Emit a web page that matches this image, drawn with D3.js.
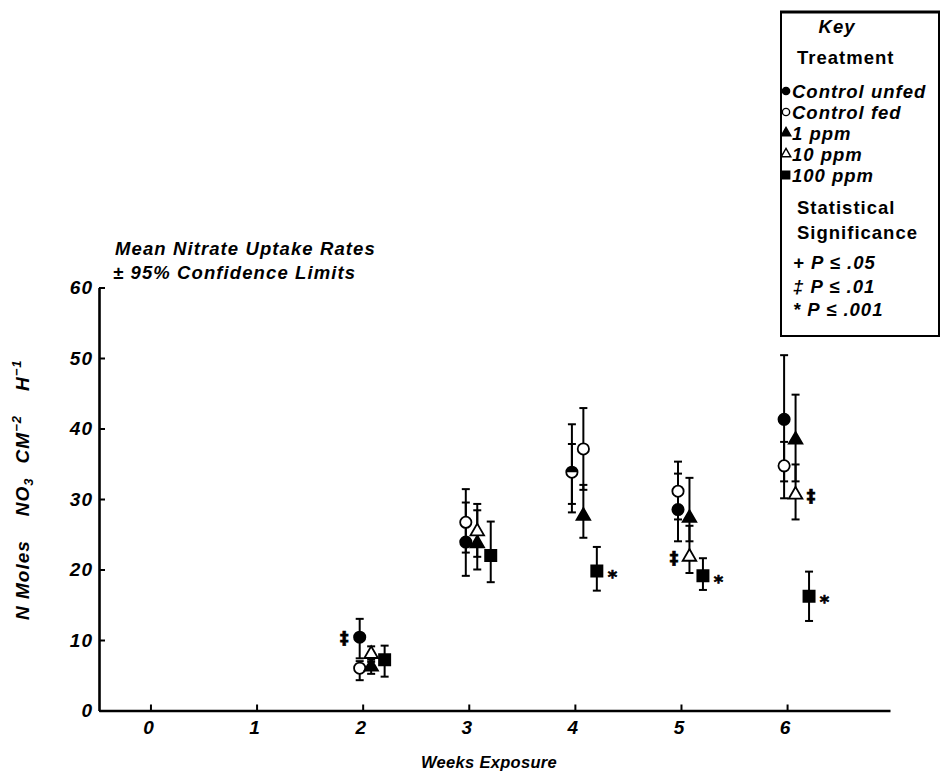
<!DOCTYPE html>
<html>
<head>
<meta charset="utf-8">
<script src="https://cdn.jsdelivr.net/npm/d3@7"></script>
<style>
  html, body { margin: 0; padding: 0; background: #fff; }
  svg { display: block; }
  text { font-family: "Liberation Sans", Arial, Helvetica, sans-serif; font-weight: bold; fill: #000; }
</style>
</head>
<body>
<svg id="chart" width="942" height="773"></svg>
<script>
// ── Data ───────────────────────────────────────────────────────────────────
const weekTicks = [0, 1, 2, 3, 4, 5, 6];
const yTicks    = [0, 10, 20, 30, 40, 50, 60];

// mean ± 95% confidence limits, per week; slot = which dodge column the point sits in
const unfed  = [
  { week: 2, mean: 10.4, lo: 7.4,  hi: 13.0, slot: 0 },
  { week: 3, mean: 23.9, lo: 19.1, hi: 29.5, slot: 0 },
  { week: 4, mean: 33.8, lo: 28.1, hi: 40.6, slot: 0, half: true },
  { week: 5, mean: 28.5, lo: 24.0, hi: 33.6, slot: 0 },
  { week: 6, mean: 41.3, lo: 32.5, hi: 50.4, slot: 0 }
];
const fed    = [
  { week: 2, mean: 6.0,  lo: 4.3,  hi: 7.0,  slot: 0 },
  { week: 3, mean: 26.7, lo: 22.4, hi: 31.4, slot: 0 },
  { week: 4, mean: 37.1, lo: 31.3, hi: 42.9, slot: 1 },
  { week: 5, mean: 31.1, lo: 27.1, hi: 35.3, slot: 0 },
  { week: 6, mean: 34.7, lo: 30.1, hi: 38.1, slot: 0 }
];
const ppm1   = [
  { week: 2, mean: 6.2,  lo: 5.2,  hi: 7.2,  slot: 1 },
  { week: 3, mean: 23.7, lo: 20.0, hi: 28.4, slot: 1 },
  { week: 4, mean: 27.6, lo: 24.5, hi: 32.0, slot: 1 },
  { week: 5, mean: 27.3, lo: 24.0, hi: 33.0, slot: 1 },
  { week: 6, mean: 38.4, lo: 32.5, hi: 44.8, slot: 1 }
];
const ppm10  = [
  { week: 2, mean: 8.0,  lo: 6.9,  hi: 9.1,  slot: 1 },
  { week: 3, mean: 25.4, lo: 21.8, hi: 29.3, slot: 1 },
  { week: 4, mean: 33.6, lo: 29.3, hi: 37.8, slot: 0, hidden: true },
  { week: 5, mean: 21.8, lo: 19.5, hi: 26.2, slot: 1 },
  { week: 6, mean: 30.6, lo: 27.1, hi: 34.9, slot: 1 }
];
const ppm100 = [
  { week: 2, mean: 7.2,  lo: 4.8,  hi: 9.2,  slot: 2 },
  { week: 3, mean: 22.0, lo: 18.2, hi: 26.8, slot: 2 },
  { week: 4, mean: 19.8, lo: 17.0, hi: 23.2, slot: 2 },
  { week: 5, mean: 19.1, lo: 17.1, hi: 21.6, slot: 2 },
  { week: 6, mean: 16.2, lo: 12.7, hi: 19.7, slot: 2 }
];

const series = [
  { key: 'unfed',  label: 'Control unfed', shape: d3.symbolCircle,   filled: true,  data: unfed  },
  { key: 'fed',    label: 'Control fed',   shape: d3.symbolCircle,   filled: false, data: fed    },
  { key: 'ppm1',   label: '1 ppm',         shape: d3.symbolTriangle, filled: true,  data: ppm1   },
  { key: 'ppm10',  label: '10 ppm',        shape: d3.symbolTriangle, filled: false, data: ppm10  },
  { key: 'ppm100', label: '100 ppm',       shape: d3.symbolSquare,   filled: true,  data: ppm100 }
];

// significance marks next to points
const sigMarks = [
  { week: 2, key: 'unfed',  sym: '‡', side: -1 },
  { week: 5, key: 'ppm10',  sym: '‡', side: -1 },
  { week: 6, key: 'ppm10',  sym: '‡', side:  1 },
  { week: 4, key: 'ppm100', sym: '*', side:  1 },
  { week: 5, key: 'ppm100', sym: '*', side:  1 },
  { week: 6, key: 'ppm100', sym: '*', side:  1 }
];

const sigLegend = [
  { sym: '+', p: '.05' },
  { sym: '‡', p: '.01' },
  { sym: '*', p: '.001' }
];

// ── Layout ─────────────────────────────────────────────────────────────────
const svg = d3.select('#chart');
const slotOffset = [-0.028, 0.08, 0.207];
const symSize = { circle: 100, triangle: 80, square: 125 };

const x = d3.scaleLinear().domain([-0.485, 6.97]).range([99, 890]);
const y = d3.scaleLinear().domain([0, 60]).range([710.5, 287.5]);

const px = d => x(d.week + slotOffset[d.slot]);
const symArea = s => s === d3.symbolCircle ? symSize.circle : s === d3.symbolTriangle ? symSize.triangle : symSize.square;

// ── Axes ───────────────────────────────────────────────────────────────────
const yAxis = svg.append('g').attr('transform', `translate(${x.range()[0]},0)`)
  .call(d3.axisLeft(y).tickValues(yTicks).tickSize(-6).tickPadding(6).tickSizeOuter(0));
const xAxis = svg.append('g').attr('transform', `translate(0,${y(0)})`)
  .call(d3.axisBottom(x).tickValues(weekTicks).tickSize(-6).tickPadding(10).tickSizeOuter(0));

[yAxis, xAxis].forEach(g => {
  g.select('.domain').attr('stroke', '#000').attr('stroke-width', 2.6);
  g.selectAll('.tick line').attr('stroke', '#000').attr('stroke-width', 2);
  g.selectAll('.tick text')
    .attr('fill', '#000')
    .style('font-family', '"Liberation Sans", Arial, sans-serif')
    .style('font-size', '19px').style('font-weight', 'bold').style('font-style', 'italic')
    .style('letter-spacing', '1px');
});
xAxis.selectAll('.tick text').attr('dx', -2);

// y axis title
const yt = svg.append('text')
  .attr('transform', 'translate(29,620) rotate(-90)')
  .style('font-size', '19px').style('font-style', 'italic').style('letter-spacing', '1px');
yt.append('tspan').text('N Moles');
yt.append('tspan').attr('dx', 24).text('NO');
yt.append('tspan').attr('dy', 4).style('font-size', '13px').text('3');
yt.append('tspan').attr('dx', 14).attr('dy', -4).text('CM');
yt.append('tspan').attr('dy', -8).style('font-size', '13px').text('−2');
yt.append('tspan').attr('dx', 24).attr('dy', 8).text('H');
yt.append('tspan').attr('dy', -8).style('font-size', '13px').text('−1');

// x axis title
svg.append('text').attr('x', 489).attr('y', 768).attr('text-anchor', 'middle')
  .style('font-size', '16.5px').style('font-style', 'italic').style('letter-spacing', '0.3px')
  .text('Weeks Exposure');

// chart title
const title = svg.append('g').style('font-size', '18.5px').style('font-style', 'italic').style('letter-spacing', '1.1px');
title.append('text').attr('x', 115).attr('y', 255).text('Mean Nitrate Uptake Rates');
title.append('text').attr('x', 113).attr('y', 279).text('± 95% Confidence Limits');

// ── Error bars and points ─────────────────────────────────────────────────
const plot = svg.append('g');
const capW = 4;

series.forEach(s => {
  const g = plot.append('g').attr('class', 'series-' + s.key);
  const bars = g.selectAll('g.bar').data(s.data).join('g').attr('class', 'bar')
    .attr('stroke', '#000').attr('stroke-width', 2);
  bars.append('line')
    .attr('x1', px).attr('x2', px)
    .attr('y1', d => y(d.lo)).attr('y2', d => y(d.hi));
  bars.append('line')
    .attr('x1', d => px(d) - capW).attr('x2', d => px(d) + capW)
    .attr('y1', d => y(d.lo)).attr('y2', d => y(d.lo));
  bars.append('line')
    .attr('x1', d => px(d) - capW).attr('x2', d => px(d) + capW)
    .attr('y1', d => y(d.hi)).attr('y2', d => y(d.hi));
});

series.forEach(s => {
  const pts = s.data.filter(d => !d.hidden);
  plot.append('g').selectAll('path').data(pts).join('path')
    .attr('transform', d => `translate(${px(d)},${y(d.mean)})`)
    .attr('d', d3.symbol().type(s.shape).size(symArea(s.shape)))
    .attr('fill', d => (s.filled && !d.half) ? '#000' : '#fff')
    .attr('stroke', '#000').attr('stroke-width', 1.8);
  // half-filled marker
  const r = Math.sqrt(symSize.circle / Math.PI);
  plot.append('g').selectAll('path').data(pts.filter(d => d.half)).join('path')
    .attr('transform', d => `translate(${px(d)},${y(d.mean)})`)
    .attr('d', `M${-r},0A${r},${r} 0 0 1 ${r},0Z`)
    .attr('fill', '#000');
});

// significance marks
const byKey = Object.fromEntries(series.map(s => [s.key, s]));
plot.append('g').selectAll('text').data(sigMarks).join('text')
  .attr('x', m => {
    const d = byKey[m.key].data.find(p => p.week === m.week);
    return px(d) + m.side * 15.5;
  })
  .attr('y', m => {
    const d = byKey[m.key].data.find(p => p.week === m.week);
    return y(d.mean) + (m.sym === '*' ? 12 : 7);
  })
  .attr('text-anchor', 'middle')
  .attr('stroke', '#000').attr('stroke-width', 0.7)
  .style('font-family', '"DejaVu Sans", sans-serif')
  .style('font-size', m => m.sym === '*' ? '18px' : '17px')
  .text(m => m.sym);

// ── Key box ────────────────────────────────────────────────────────────────
const key = svg.append('g');
key.append('rect').attr('x', 781).attr('y', 12).attr('width', 158).attr('height', 324)
  .attr('fill', '#fff').attr('stroke', '#000').attr('stroke-width', 2);
key.append('line').attr('x1', 780).attr('x2', 940).attr('y1', 12).attr('y2', 12)
  .attr('stroke', '#000').attr('stroke-width', 3);

const kt = key.append('g').style('font-size', '18.5px').style('letter-spacing', '1px');
kt.append('text').attr('x', 837).attr('y', 33).attr('text-anchor', 'middle').style('font-style', 'italic').text('Key');
kt.append('text').attr('x', 797).attr('y', 64).text('Treatment');

const rowY = i => 91 + i * 21;
const legendSize = { circle: 42, triangle: 40, square: 55 };
const lg = kt.append('g').selectAll('g').data(series).join('g')
  .attr('transform', (s, i) => `translate(786,${rowY(i)})`);
lg.append('path')
  .attr('d', s => d3.symbol().type(s.shape)
    .size(s.shape === d3.symbolCircle ? legendSize.circle : s.shape === d3.symbolTriangle ? legendSize.triangle : legendSize.square)())
  .attr('fill', s => s.filled ? '#000' : '#fff')
  .attr('stroke', '#000').attr('stroke-width', 1.4);
lg.append('text').attr('x', 6).attr('y', 6.5).style('font-style', 'italic').text(s => s.label);

kt.append('text').attr('x', 797).attr('y', 214).text('Statistical');
kt.append('text').attr('x', 797).attr('y', 239).text('Significance');

const sl = kt.append('g').selectAll('text').data(sigLegend).join('text')
  .attr('x', 793).attr('y', (d, i) => 269 + i * 23.5).style('font-style', 'italic');
sl.append('tspan').text(d => d.sym + ' ');
sl.append('tspan').text(d => 'P ≤ ' + d.p);
</script>
</body>
</html>
